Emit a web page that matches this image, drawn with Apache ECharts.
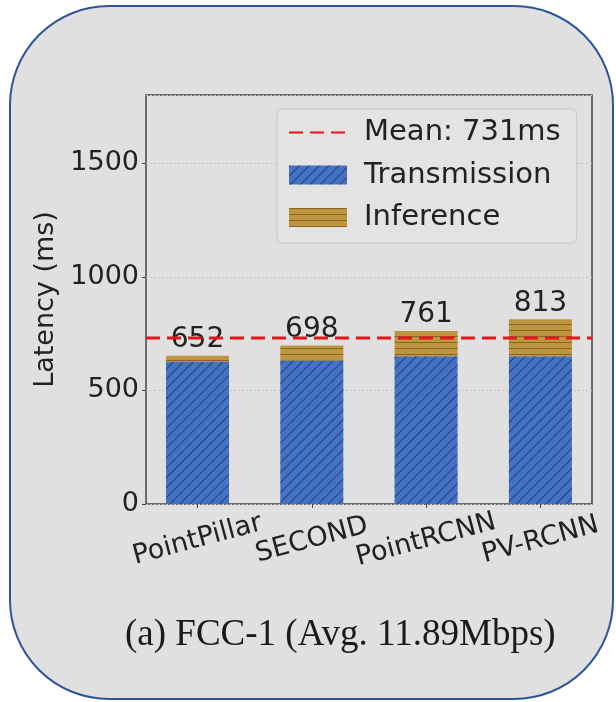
<!DOCTYPE html>
<html><head><meta charset="utf-8">
<script src="https://cdn.jsdelivr.net/npm/echarts@6/dist/echarts.min.js"></script>
<style>
html,body{margin:0;padding:0;background:#ffffff;}
#frame{position:absolute;left:9px;top:5px;width:601px;height:691px;border:2px solid #2f5597;border-radius:100px;background:#e0e0e0;}
#chart{position:absolute;left:0;top:0;width:616px;height:702px;}
</style></head>
<body>
<div id="frame"></div>
<div id="chart"></div>
<script>
const categories = ['PointPillar', 'SECOND', 'PointRCNN', 'PV-RCNN'];
const transmission = [625, 632, 650, 650];
const inference = [27, 66, 111, 163];
const meanLatency = 731;
const yTicks = [0, 500, 1000, 1500];
const yMax = 1800;
const titleText = '(a) FCC-1 (Avg. 11.89Mbps)';
const yName = 'Latency (ms)';

const FONT = 'DejaVu Sans';
const chart = echarts.init(document.getElementById('chart'), null, {renderer: 'canvas'});
const meanName = 'Mean: ' + meanLatency + 'ms';

chart.setOption({
  backgroundColor: 'transparent',
  animation: false,
  title: {
    text: titleText, left: 120, top: 612,
    textStyle: {fontFamily: 'Liberation Serif', fontSize: 37, fontWeight: 'normal', color: '#1a1a1a'}
  },
  legend: {
    orient: 'vertical', left: 277, top: 109,
    padding: [9, 16, 11, 11],
    itemWidth: 58, itemHeight: 19, itemGap: 13.5,
    backgroundColor: '#e3e3e3', borderColor: '#c6c6c6', borderWidth: 1, borderRadius: 5,
    textStyle: {fontFamily: FONT, fontSize: 29, color: '#222', padding: [0,0,0,12]},
    data: [
      {name: meanName, itemStyle: {opacity: 0}},
      {name: 'Transmission', icon: 'rect'},
      {name: 'Inference', icon: 'rect'}
    ]
  },
  grid: [
    {left: 146, right: 24, top: 95, bottom: 198, show: true, borderColor: '#444', borderWidth: 1.5, backgroundColor: 'transparent', containLabel: false},
    {left: 140.35, width: 457.2, top: 95, bottom: 198, containLabel: false}
  ],
  xAxis: [
    {gridIndex: 0, type: 'value', min: 0, max: 1, show: false},
    {gridIndex: 1, type: 'category', data: categories,
     axisLine: {show: false},
     axisTick: {show: true, alignWithLabel: true, length: 4, lineStyle: {color: '#444'}},
     axisLabel: {interval: 0, hideOverlap: false, rotate: 15, align: 'center', verticalAlign: 'middle', margin: 36,
       fontFamily: FONT, fontSize: 27, color: '#222'}}
  ],
  yAxis: [
    {gridIndex: 0, type: 'value', min: 0, max: yMax, interval: 500,
     name: yName, nameLocation: 'middle', nameGap: 71,
     nameTextStyle: {fontFamily: FONT, fontSize: 27, color: '#222'},
     axisLine: {show: false},
     axisTick: {show: true, length: 4, lineStyle: {color: '#444'}},
     axisLabel: {fontFamily: FONT, fontSize: 27, color: '#222', margin: 7, showMaxLabel: false,
       formatter: v => yTicks.includes(v) ? String(v) : ''},
     splitLine: {show: true, lineStyle: {color: '#c4c4c4', type: [2, 2], width: 1}}},
    {gridIndex: 1, type: 'value', min: 0, max: yMax, show: false, splitLine: {show: false}}
  ],
  series: [
    {name: 'Transmission', type: 'bar', stack: 'lat', xAxisIndex: 1, yAxisIndex: 1,
     barWidth: 63, data: transmission,
     itemStyle: {color: '#4472c4',
       decal: {symbol: 'rect', symbolSize: 1, dashArrayX: [1, 0], dashArrayY: [1, 5.5],
               rotation: -Math.PI / 4, color: 'rgba(20,30,70,0.6)'}}},
    {name: 'Inference', type: 'bar', stack: 'lat', xAxisIndex: 1, yAxisIndex: 1,
     barWidth: 63, data: inference,
     itemStyle: {color: '#bf9540',
       decal: {symbol: 'rect', symbolSize: 1, dashArrayX: [1, 0], dashArrayY: [1, 4.5],
               rotation: 0, color: 'rgba(100,70,20,0.6)'}},
     label: {show: true, position: 'top', distance: 2,
       fontFamily: FONT, fontSize: 28, color: '#222',
       formatter: p => String(transmission[p.dataIndex] + inference[p.dataIndex])}},
    {name: meanName, type: 'line', xAxisIndex: 0, yAxisIndex: 0, z: 5,
     data: [[0, meanLatency], [1, meanLatency]], symbol: 'none',
     itemStyle: {color: '#e8141b'},
     lineStyle: {color: '#e8141b', width: 3, type: [14, 7]}}
  ]
});
</script>
</body></html>
